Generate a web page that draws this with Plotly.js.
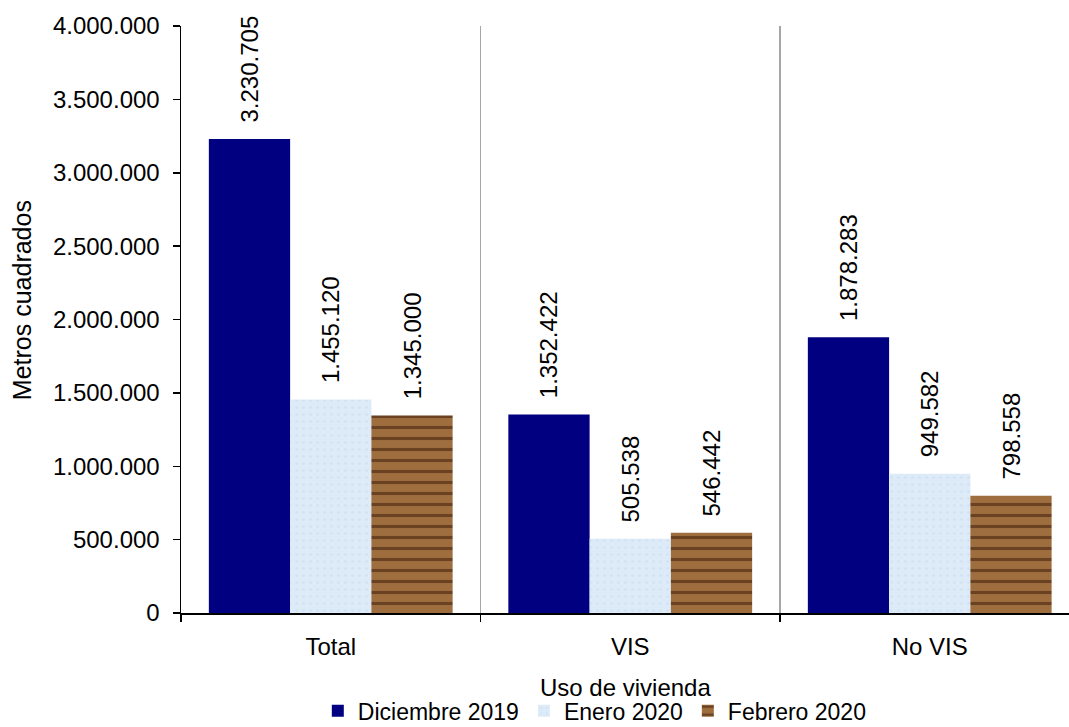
<!DOCTYPE html>
<html>
<head>
<meta charset="utf-8">
<script src="https://cdn.plot.ly/plotly-3.0.1.min.js"></script>
<style>html,body{margin:0;padding:0;background:#fff;}</style>
</head>
<body>
<div id="chart" style="width:1069px;height:727px;"></div>
<script>
var categories = ["Total", "VIS", "No VIS"];
var seriesNames = ["Diciembre 2019", "Enero 2020", "Febrero 2020"];
var dic2019 = [3230705, 1352422, 1878283];
var ene2020 = [1455120, 505538, 949582];
var feb2020 = [1345000, 546442, 798558];
var yTitle = "Metros cuadrados";
var xTitle = "Uso de vivienda";

var FONT = "Liberation Sans, Arial, sans-serif";
var FS = 24;
var labelPrefix = "\u00a0\u00a0";

function fmt(v) {
  return String(v).replace(/\B(?=(\d{3})+(?!\d))/g, ".");
}

function barTrace(name, values, marker) {
  return {
    type: "bar",
    name: name,
    x: categories,
    y: values,
    text: values.map(function (v) { return labelPrefix + fmt(v); }),
    textposition: "outside",
    textangle: -90,
    constraintext: "none",
    cliponaxis: false,
    textfont: {family: FONT, size: FS, color: "#000"},
    marker: marker,
    hoverinfo: "x+y"
  };
}

var data = [
  barTrace(seriesNames[0], dic2019, {color: "#000080", line: {width: 0}}),
  barTrace(seriesNames[1], ene2020, {color: "#DCEAF8", line: {width: 0},
    pattern: {shape: ".", bgcolor: "#DDEBF8", fgcolor: "#D2E2F2", size: 7, solidity: 0.12}}),
  barTrace(seriesNames[2], feb2020, {color: "#9A6A3C", line: {width: 0},
    pattern: {shape: "-", bgcolor: "#9E6E3F", fgcolor: "#6A4222", size: 11, solidity: 0.28}})
];

var layout = {
  width: 1069,
  height: 727,
  margin: {l: 181, r: 0, t: 26, b: 114, autoexpand: false},
  paper_bgcolor: "#fff",
  plot_bgcolor: "#fff",
  font: {family: FONT, size: FS, color: "#000"},
  separators: ",.",
  barmode: "group",
  bargap: 0.186,
  bargroupgap: 0,
  showlegend: true,
  xaxis: {
    type: "category",
    range: [-0.5, 2.465],
    tickson: "boundaries",
    ticks: "outside",
    ticklen: 7,
    tickwidth: 1.5,
    tickcolor: "#000",
    showline: true,
    linecolor: "#000",
    linewidth: 1.5,
    showgrid: true,
    gridcolor: "#A6A6A6",
    gridwidth: 1.5,
    ticklabelstandoff: 12,
    tickfont: {family: FONT, size: FS, color: "#000"},
    automargin: false,
    fixedrange: true
  },
  yaxis: {
    range: [0, 4000000],
    dtick: 500000,
    tickformat: ",.0f",
    ticks: "outside",
    ticklen: 7,
    tickwidth: 1.5,
    tickcolor: "#000",
    showline: true,
    linecolor: "#000",
    linewidth: 1.5,
    showgrid: false,
    zeroline: false,
    ticklabelstandoff: 8,
    tickfont: {family: FONT, size: FS, color: "#000"},
    automargin: false,
    fixedrange: true
  },
  annotations: [
    {text: xTitle, xref: "paper", yref: "paper", x: 0.5, y: -0.1265, xanchor: "center", yanchor: "middle",
     showarrow: false, font: {family: FONT, size: FS, color: "#000"}},
    {text: yTitle, xref: "paper", yref: "paper", x: -0.179, y: 0.533, xanchor: "center", yanchor: "middle",
     textangle: -90, showarrow: false, font: {family: FONT, size: 25, color: "#000"}}
  ],
  legend: {
    orientation: "h",
    xref: "paper",
    yref: "paper",
    x: 0.466,
    xanchor: "center",
    y: -0.1665,
    yanchor: "middle",
    font: {family: FONT, size: 23, color: "#000"},
    itemwidth: 30,
    tracegroupgap: 0,
    traceorder: "normal"
  }
};

Plotly.newPlot("chart", data, layout, {displayModeBar: false, staticPlot: true});
</script>
</body>
</html>
